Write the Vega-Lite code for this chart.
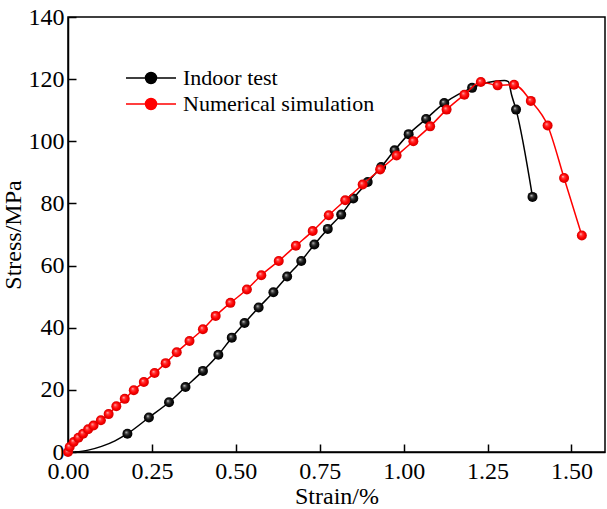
{
  "$schema": "https://vega.github.io/schema/vega-lite/v6.json",
  "width": 537,
  "height": 435,
  "autosize": {"type": "none"},
  "padding": {"left": 68, "top": 17, "right": 2, "bottom": 57},
  "background": "white",
  "config": {
    "view": {"stroke": "black", "strokeWidth": 1.5},
    "axis": {
      "grid": false,
      "domainColor": "black",
      "domainWidth": 1.5,
      "tickColor": "black",
      "tickWidth": 1.5,
      "tickSize": -8,
      "labelFlush": false,
      "labelOverlap": false,
      "labelFont": "Liberation Serif",
      "labelFontSize": 24,
      "labelColor": "black",
      "titleFont": "Liberation Serif",
      "titleFontSize": 24,
      "titleFontWeight": "normal",
      "titleColor": "black"
    }
  },
  "datasets": {
    "curve": [
      {"series": "Indoor test", "strain": 0.02, "stress": 0.0},
      {"series": "Indoor test", "strain": 0.06, "stress": 0.6},
      {"series": "Indoor test", "strain": 0.10, "stress": 1.8},
      {"series": "Indoor test", "strain": 0.14, "stress": 3.6},
      {"series": "Indoor test", "strain": 0.177, "stress": 5.9},
      {"series": "Indoor test", "strain": 0.241, "stress": 11.1},
      {"series": "Indoor test", "strain": 0.301, "stress": 16.0},
      {"series": "Indoor test", "strain": 0.350, "stress": 20.9},
      {"series": "Indoor test", "strain": 0.402, "stress": 26.1},
      {"series": "Indoor test", "strain": 0.448, "stress": 31.3},
      {"series": "Indoor test", "strain": 0.488, "stress": 36.8},
      {"series": "Indoor test", "strain": 0.526, "stress": 41.5},
      {"series": "Indoor test", "strain": 0.568, "stress": 46.5},
      {"series": "Indoor test", "strain": 0.612, "stress": 51.4},
      {"series": "Indoor test", "strain": 0.653, "stress": 56.5},
      {"series": "Indoor test", "strain": 0.695, "stress": 61.5},
      {"series": "Indoor test", "strain": 0.734, "stress": 66.8},
      {"series": "Indoor test", "strain": 0.774, "stress": 71.8},
      {"series": "Indoor test", "strain": 0.814, "stress": 76.4},
      {"series": "Indoor test", "strain": 0.850, "stress": 81.6},
      {"series": "Indoor test", "strain": 0.893, "stress": 86.9},
      {"series": "Indoor test", "strain": 0.933, "stress": 91.7},
      {"series": "Indoor test", "strain": 0.973, "stress": 97.1},
      {"series": "Indoor test", "strain": 1.015, "stress": 102.3},
      {"series": "Indoor test", "strain": 1.067, "stress": 107.2},
      {"series": "Indoor test", "strain": 1.121, "stress": 112.3},
      {"series": "Indoor test", "strain": 1.163, "stress": 115.1},
      {"series": "Indoor test", "strain": 1.204, "stress": 117.2},
      {"series": "Indoor test", "strain": 1.25, "stress": 118.9},
      {"series": "Indoor test", "strain": 1.30, "stress": 119.6},
      {"series": "Indoor test", "strain": 1.312, "stress": 119.2},
      {"series": "Indoor test", "strain": 1.322, "stress": 114.8},
      {"series": "Indoor test", "strain": 1.335, "stress": 110.2},
      {"series": "Indoor test", "strain": 1.384, "stress": 82.1},
      {"series": "Numerical simulation", "strain": 0.0, "stress": 0.0},
      {"series": "Numerical simulation", "strain": 0.005, "stress": 1.6},
      {"series": "Numerical simulation", "strain": 0.017, "stress": 3.2},
      {"series": "Numerical simulation", "strain": 0.031, "stress": 4.6},
      {"series": "Numerical simulation", "strain": 0.045, "stress": 5.9},
      {"series": "Numerical simulation", "strain": 0.060, "stress": 7.3},
      {"series": "Numerical simulation", "strain": 0.076, "stress": 8.5},
      {"series": "Numerical simulation", "strain": 0.098, "stress": 10.2},
      {"series": "Numerical simulation", "strain": 0.121, "stress": 12.2},
      {"series": "Numerical simulation", "strain": 0.144, "stress": 14.7},
      {"series": "Numerical simulation", "strain": 0.169, "stress": 17.1},
      {"series": "Numerical simulation", "strain": 0.196, "stress": 19.9},
      {"series": "Numerical simulation", "strain": 0.226, "stress": 22.5},
      {"series": "Numerical simulation", "strain": 0.258, "stress": 25.4},
      {"series": "Numerical simulation", "strain": 0.291, "stress": 28.6},
      {"series": "Numerical simulation", "strain": 0.324, "stress": 32.1},
      {"series": "Numerical simulation", "strain": 0.362, "stress": 35.7},
      {"series": "Numerical simulation", "strain": 0.402, "stress": 39.5},
      {"series": "Numerical simulation", "strain": 0.440, "stress": 43.8},
      {"series": "Numerical simulation", "strain": 0.484, "stress": 48.0},
      {"series": "Numerical simulation", "strain": 0.533, "stress": 52.3},
      {"series": "Numerical simulation", "strain": 0.576, "stress": 56.9},
      {"series": "Numerical simulation", "strain": 0.628, "stress": 61.5},
      {"series": "Numerical simulation", "strain": 0.679, "stress": 66.4},
      {"series": "Numerical simulation", "strain": 0.729, "stress": 71.1},
      {"series": "Numerical simulation", "strain": 0.777, "stress": 76.2},
      {"series": "Numerical simulation", "strain": 0.826, "stress": 81.0},
      {"series": "Numerical simulation", "strain": 0.878, "stress": 86.1},
      {"series": "Numerical simulation", "strain": 0.930, "stress": 90.9},
      {"series": "Numerical simulation", "strain": 0.979, "stress": 95.4},
      {"series": "Numerical simulation", "strain": 1.029, "stress": 100.0},
      {"series": "Numerical simulation", "strain": 1.079, "stress": 104.8},
      {"series": "Numerical simulation", "strain": 1.128, "stress": 110.2},
      {"series": "Numerical simulation", "strain": 1.181, "stress": 115.0},
      {"series": "Numerical simulation", "strain": 1.230, "stress": 119.1},
      {"series": "Numerical simulation", "strain": 1.280, "stress": 118.0},
      {"series": "Numerical simulation", "strain": 1.329, "stress": 118.2},
      {"series": "Numerical simulation", "strain": 1.379, "stress": 113.0},
      {"series": "Numerical simulation", "strain": 1.429, "stress": 105.1},
      {"series": "Numerical simulation", "strain": 1.478, "stress": 88.2},
      {"series": "Numerical simulation", "strain": 1.531, "stress": 69.7}
    ],
    "points": [
      {"series": "Indoor test", "strain": 0.177, "stress": 5.9},
      {"series": "Indoor test", "strain": 0.241, "stress": 11.1},
      {"series": "Indoor test", "strain": 0.301, "stress": 16.0},
      {"series": "Indoor test", "strain": 0.350, "stress": 20.9},
      {"series": "Indoor test", "strain": 0.402, "stress": 26.1},
      {"series": "Indoor test", "strain": 0.448, "stress": 31.3},
      {"series": "Indoor test", "strain": 0.488, "stress": 36.8},
      {"series": "Indoor test", "strain": 0.526, "stress": 41.5},
      {"series": "Indoor test", "strain": 0.568, "stress": 46.5},
      {"series": "Indoor test", "strain": 0.612, "stress": 51.4},
      {"series": "Indoor test", "strain": 0.653, "stress": 56.5},
      {"series": "Indoor test", "strain": 0.695, "stress": 61.5},
      {"series": "Indoor test", "strain": 0.734, "stress": 66.8},
      {"series": "Indoor test", "strain": 0.774, "stress": 71.8},
      {"series": "Indoor test", "strain": 0.814, "stress": 76.4},
      {"series": "Indoor test", "strain": 0.850, "stress": 81.6},
      {"series": "Indoor test", "strain": 0.893, "stress": 86.9},
      {"series": "Indoor test", "strain": 0.933, "stress": 91.7},
      {"series": "Indoor test", "strain": 0.973, "stress": 97.1},
      {"series": "Indoor test", "strain": 1.015, "stress": 102.3},
      {"series": "Indoor test", "strain": 1.067, "stress": 107.2},
      {"series": "Indoor test", "strain": 1.121, "stress": 112.3},
      {"series": "Indoor test", "strain": 1.204, "stress": 117.2},
      {"series": "Indoor test", "strain": 1.335, "stress": 110.2},
      {"series": "Indoor test", "strain": 1.384, "stress": 82.1},
      {"series": "Numerical simulation", "strain": 0.0, "stress": 0.0},
      {"series": "Numerical simulation", "strain": 0.005, "stress": 1.6},
      {"series": "Numerical simulation", "strain": 0.017, "stress": 3.2},
      {"series": "Numerical simulation", "strain": 0.031, "stress": 4.6},
      {"series": "Numerical simulation", "strain": 0.045, "stress": 5.9},
      {"series": "Numerical simulation", "strain": 0.060, "stress": 7.3},
      {"series": "Numerical simulation", "strain": 0.076, "stress": 8.5},
      {"series": "Numerical simulation", "strain": 0.098, "stress": 10.2},
      {"series": "Numerical simulation", "strain": 0.121, "stress": 12.2},
      {"series": "Numerical simulation", "strain": 0.144, "stress": 14.7},
      {"series": "Numerical simulation", "strain": 0.169, "stress": 17.1},
      {"series": "Numerical simulation", "strain": 0.196, "stress": 19.9},
      {"series": "Numerical simulation", "strain": 0.226, "stress": 22.5},
      {"series": "Numerical simulation", "strain": 0.258, "stress": 25.4},
      {"series": "Numerical simulation", "strain": 0.291, "stress": 28.6},
      {"series": "Numerical simulation", "strain": 0.324, "stress": 32.1},
      {"series": "Numerical simulation", "strain": 0.362, "stress": 35.7},
      {"series": "Numerical simulation", "strain": 0.402, "stress": 39.5},
      {"series": "Numerical simulation", "strain": 0.440, "stress": 43.8},
      {"series": "Numerical simulation", "strain": 0.484, "stress": 48.0},
      {"series": "Numerical simulation", "strain": 0.533, "stress": 52.3},
      {"series": "Numerical simulation", "strain": 0.576, "stress": 56.9},
      {"series": "Numerical simulation", "strain": 0.628, "stress": 61.5},
      {"series": "Numerical simulation", "strain": 0.679, "stress": 66.4},
      {"series": "Numerical simulation", "strain": 0.729, "stress": 71.1},
      {"series": "Numerical simulation", "strain": 0.777, "stress": 76.2},
      {"series": "Numerical simulation", "strain": 0.826, "stress": 81.0},
      {"series": "Numerical simulation", "strain": 0.878, "stress": 86.1},
      {"series": "Numerical simulation", "strain": 0.930, "stress": 90.9},
      {"series": "Numerical simulation", "strain": 0.979, "stress": 95.4},
      {"series": "Numerical simulation", "strain": 1.029, "stress": 100.0},
      {"series": "Numerical simulation", "strain": 1.079, "stress": 104.8},
      {"series": "Numerical simulation", "strain": 1.128, "stress": 110.2},
      {"series": "Numerical simulation", "strain": 1.181, "stress": 115.0},
      {"series": "Numerical simulation", "strain": 1.230, "stress": 119.1},
      {"series": "Numerical simulation", "strain": 1.280, "stress": 118.0},
      {"series": "Numerical simulation", "strain": 1.329, "stress": 118.2},
      {"series": "Numerical simulation", "strain": 1.379, "stress": 113.0},
      {"series": "Numerical simulation", "strain": 1.429, "stress": 105.1},
      {"series": "Numerical simulation", "strain": 1.478, "stress": 88.2},
      {"series": "Numerical simulation", "strain": 1.531, "stress": 69.7}
    ]
  },
  "encoding": {
    "x": {
      "field": "strain", "type": "quantitative",
      "scale": {"domain": [0, 1.6], "nice": false},
      "axis": {"title": "Strain/%", "values": [0, 0.25, 0.5, 0.75, 1.0, 1.25, 1.5], "format": ".2f", "labelPadding": 15, "titlePadding": 1}
    },
    "y": {
      "field": "stress", "type": "quantitative",
      "scale": {"domain": [0, 140], "nice": false},
      "axis": {"title": "Stress/MPa", "values": [0, 20, 40, 60, 80, 100, 120, 140], "labelPadding": 12, "titlePadding": 3}
    }
  },
  "layer": [
    {
      "data": {"name": "curve"},
      "transform": [{"filter": "datum.series === 'Indoor test'"}],
      "mark": {"type": "line", "strokeWidth": 1.5, "interpolate": "monotone"},
      "encoding": {
        "color": {
          "field": "series", "type": "nominal",
          "scale": {"domain": ["Indoor test", "Numerical simulation"], "range": ["black", "red"]},
          "legend": {
            "title": null,
            "orient": "none",
            "legendX": 72,
            "legendY": 50,
            "padding": 0,
            "symbolType": "M-2.5,0H-0.55M0.55,0H2.5M-0.55,0A0.55,0.55,0,1,1,0.55,0A0.55,0.55,0,1,1,-0.55,0Z",
            "symbolSize": 400,
            "symbolStrokeWidth": 1.5,
            "symbolOpacity": 1,
            "labelFont": "Liberation Serif",
            "labelFontSize": 22,
            "labelColor": "black",
            "labelOffset": 21,
            "rowPadding": 4,
            "labelLimit": 400,
            "encode": {
              "symbols": {
                "update": {
                  "fill": {"scale": "color", "field": "value"},
                  "stroke": {"scale": "color", "field": "value"},
                  "opacity": {"value": 1}
                }
              }
            }
          }
        }
      }
    },
    {
      "data": {"name": "points"},
      "transform": [{"filter": "datum.series === 'Indoor test'"}],
      "mark": {
        "type": "point", "shape": "circle", "filled": true, "size": 100, "opacity": 1, "strokeWidth": 0,
        "fill": {"gradient": "radial", "x1": 0.38, "y1": 0.35, "r1": 0, "x2": 0.5, "y2": 0.5, "r2": 0.5,
          "stops": [{"offset": 0, "color": "#f0f0f0"}, {"offset": 0.25, "color": "#505050"}, {"offset": 0.6, "color": "#111111"}, {"offset": 1, "color": "#000000"}]}
      }
    },
    {
      "data": {"name": "curve"},
      "transform": [{"filter": "datum.series === 'Numerical simulation'"}],
      "mark": {"type": "line", "strokeWidth": 1.5, "interpolate": "monotone"},
      "encoding": {
        "color": {"field": "series", "type": "nominal"}
      }
    },
    {
      "data": {"name": "points"},
      "transform": [{"filter": "datum.series === 'Numerical simulation'"}],
      "mark": {
        "type": "point", "shape": "circle", "filled": true, "size": 100, "opacity": 1, "strokeWidth": 0,
        "fill": {"gradient": "radial", "x1": 0.38, "y1": 0.35, "r1": 0, "x2": 0.5, "y2": 0.5, "r2": 0.5,
          "stops": [{"offset": 0, "color": "#ffe0e0"}, {"offset": 0.25, "color": "#ff4040"}, {"offset": 0.65, "color": "#ff0000"}, {"offset": 1, "color": "#d00000"}]}
      }
    }
  ]
}
